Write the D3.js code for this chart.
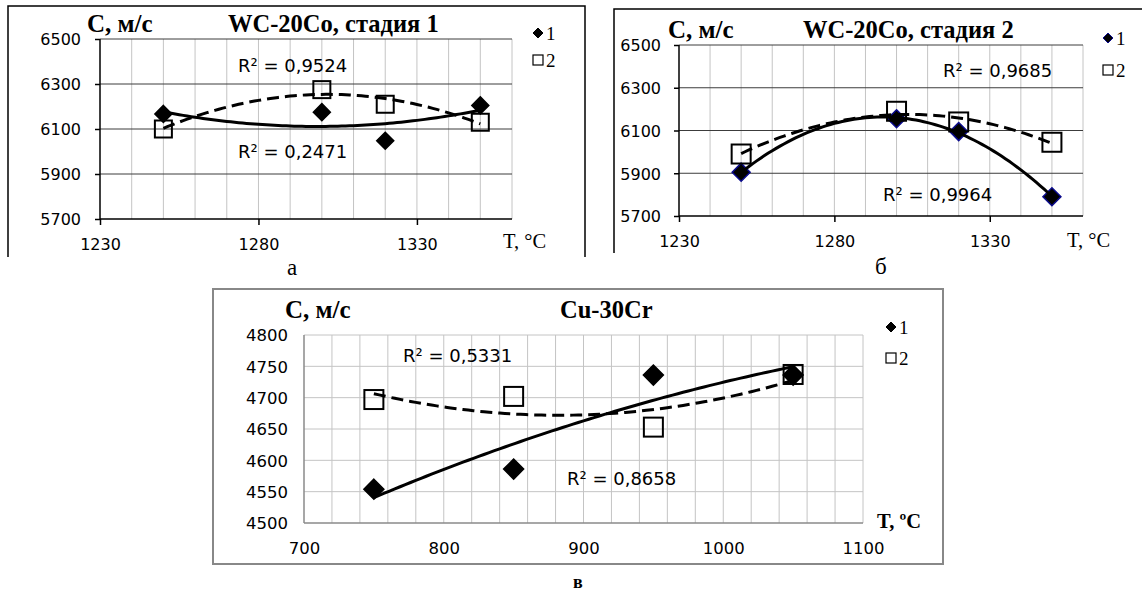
<!DOCTYPE html>
<html>
<head>
<meta charset="utf-8">
<script src="https://cdn.jsdelivr.net/npm/d3@7"></script>
<style>
  body { margin: 0; background: #fff; }
  svg { display: block; }
</style>
</head>
<body>
<svg id="chart" width="1142" height="595"></svg>
<script>
// ---- data ----
const tempsWC = [1250, 1300, 1320, 1350];
const stage1Series1 = [6167, 6175, 6048, 6205];
const stage1Series2 = [6100, 6275, 6210, 6130];
const stage2Series1 = [5905, 6155, 6095, 5790];
const stage2Series2 = [5990, 6190, 6140, 6045];

const tempsCu = [750, 850, 950, 1050];
const cuSeries1 = [4554, 4586, 4736, 4736];
const cuSeries2 = [4697, 4702, 4653, 4737];

const wcXTicks = [1230, 1280, 1330];
const wcYTicks = [5700, 5900, 6100, 6300, 6500];
const cuXTicks = [700, 800, 900, 1000, 1100];
const cuYTicks = [4500, 4550, 4600, 4650, 4700, 4750, 4800];

const titles = ['WC-20Co, стадия 1', 'WC-20Co, стадия 2', 'Cu-30Cr'];
const r2Labels = [['R² = 0,2471', 'R² = 0,9524'], ['R² = 0,9964', 'R² = 0,9685'], ['R² = 0,8658', 'R² = 0,5331']];
const legendNames = ['1', '2'];
const panelLetters = ['а', 'б', 'в'];

const svg = d3.select('#chart');
const sansFont = '"DejaVu Sans", Verdana, sans-serif';
const serifFont = '"Liberation Serif", "Times New Roman", serif';

// least squares parabola, x centred to keep numbers small
function quadFit(xs, ys) {
    const mx = d3.mean(xs);
    const t = xs.map(v => v - mx);
    const S = [0, 1, 2, 3, 4].map(k => d3.sum(t, v => Math.pow(v, k)));
    const T = [0, 1, 2].map(k => d3.sum(t, (v, i) => Math.pow(v, k) * ys[i]));
    const M = [[S[0], S[1], S[2]], [S[1], S[2], S[3]], [S[2], S[3], S[4]]];
    const det = m => m[0][0] * (m[1][1] * m[2][2] - m[1][2] * m[2][1])
        - m[0][1] * (m[1][0] * m[2][2] - m[1][2] * m[2][0])
        + m[0][2] * (m[1][0] * m[2][1] - m[1][1] * m[2][0]);
    const D = det(M);
    const coef = [0, 1, 2].map(c => {
        const m = M.map((row, r) => row.map((v, j) => j == c ? T[r] : v));
        return det(m) / D;
    });
    return x => coef[0] + coef[1] * (x - mx) + coef[2] * (x - mx) * (x - mx);
}

function diamondPath(r) {
    return 'M0,' + (-r) + 'L' + r + ',0L0,' + r + 'L' + (-r) + ',0Z';
}

const panels = [
    {
        frame: { x0: 8, y0: 6, x1: 585, y1: 257, bottom: false, color: '#000', width: 1.5 },
        plot: { x0: 100, x1: 512, y0: 39, y1: 219 },
        xDomain: [1230, 1360], yDomain: [5700, 6500],
        xTicks: wcXTicks, yTicks: wcYTicks, xStep: 10, yStep: 200,
        temps: tempsWC, s1: stage1Series1, s2: stage1Series2,
        style: 'wc', diamondFill: '#000', diamondStroke: '#000',
        tickFont: 16,
        cLabel: [87, 32], title: [228, 32], r2: [[238, 158], [238, 71.5]],
        tLabel: [503, 248], xLblY: 249.5, yLblX: 81,
        legend: [538, 33, 60], letter: [287, 275], markerR: 8.5, sq: 17
    },
    {
        frame: { x0: 614, y0: 9, x1: 1160, y1: 253, bottom: false, color: '#000', width: 1.5 },
        plot: { x0: 679, x1: 1083, y0: 45, y1: 216 },
        xDomain: [1230, 1360], yDomain: [5700, 6500],
        xTicks: wcXTicks, yTicks: wcYTicks, xStep: 10, yStep: 200,
        temps: tempsWC, s1: stage2Series1, s2: stage2Series2,
        style: 'wc', diamondFill: '#000', diamondStroke: '#0a0a8c',
        tickFont: 16,
        cLabel: [668, 38], title: [803, 38], r2: [[883, 201], [943, 76.5]],
        tLabel: [1067, 246.5], xLblY: 246.5, yLblX: 661,
        legend: [1108, 38, 70], letter: [875, 274], markerR: 9, sq: 19
    },
    {
        frame: { x0: 213, y0: 289, x1: 943, y1: 564, bottom: true, color: '#888', width: 2 },
        plot: { x0: 304, x1: 863, y0: 335, y1: 523 },
        xDomain: [700, 1100], yDomain: [4500, 4800],
        xTicks: cuXTicks, yTicks: cuYTicks, xStep: 20, yStep: 50,
        temps: tempsCu, s1: cuSeries1, s2: cuSeries2,
        style: 'cu', diamondFill: '#000', diamondStroke: '#000',
        tickFont: 16.5,
        cLabel: [285, 318], title: [560, 318], r2: [[567, 485], [403, 361.5]],
        tLabel: [877, 528], xLblY: 553.5, yLblX: 288,
        legend: [891, 327, 358], letter: [573, 588], markerR: 10, sq: 19
    }
];

panels.forEach((p, idx) => drawPanel(p, idx));

function drawPanel(p, idx) {
    const g = svg.append('g');
    const x = d3.scaleLinear().domain(p.xDomain).range([p.plot.x0, p.plot.x1]);
    const y = d3.scaleLinear().domain(p.yDomain).range([p.plot.y1, p.plot.y0]);
    const f = p.frame;

    // outer frame
    const framePath = f.bottom
        ? 'M' + f.x0 + ',' + f.y0 + 'H' + f.x1 + 'V' + f.y1 + 'H' + f.x0 + 'Z'
        : 'M' + f.x0 + ',' + f.y1 + 'V' + f.y0 + 'H' + f.x1 + 'V' + f.y1;
    g.append('path').attr('d', framePath).attr('fill', 'none')
        .attr('stroke', f.color).attr('stroke-width', f.width);

    // grid
    const vLines = d3.range(p.xDomain[0] + p.xStep, p.xDomain[1] + 0.001, p.xStep);
    const hLines = d3.range(p.yDomain[0] + p.yStep, p.yDomain[1] + 0.001, p.yStep);
    g.selectAll('.vg').data(vLines).enter().append('line')
        .attr('x1', d => x(d)).attr('x2', d => x(d))
        .attr('y1', p.plot.y0).attr('y2', p.plot.y1)
        .attr('stroke', '#c4c4c4').attr('stroke-width', 1);
    g.selectAll('.hg').data(hLines).enter().append('line')
        .attr('x1', p.plot.x0).attr('x2', p.plot.x1)
        .attr('y1', d => y(d)).attr('y2', d => y(d))
        .attr('stroke', p.style == 'wc' ? '#3c3c3c' : '#c4c4c4').attr('stroke-width', 1);

    // axes
    const wc = p.style == 'wc';
    const yAxis = d3.axisLeft(y).tickValues(p.yTicks).tickFormat(d3.format('d'))
        .tickSize(wc ? 5 : 0).tickPadding(wc ? (p.plot.x0 - p.yLblX - 5) : (p.plot.x0 - p.yLblX));
    const xAxis = d3.axisBottom(x).tickValues(p.xTicks).tickFormat(d3.format('d'))
        .tickSize(wc ? 6 : 0).tickPadding(0);
    const axisColor = wc ? '#000' : '#8a8a8a';

    const ya = g.append('g').attr('transform', 'translate(' + p.plot.x0 + ',0)').call(yAxis);
    ya.select('.domain').attr('d', 'M0,' + p.plot.y0 + 'V' + p.plot.y1);
    const xa = g.append('g').attr('transform', 'translate(0,' + p.plot.y1 + ')').call(xAxis);
    xa.select('.domain').attr('d', 'M' + p.plot.x0 + ',0H' + p.plot.x1);
    [ya, xa].forEach(a => {
        a.attr('font-family', sansFont).attr('font-size', p.tickFont);
        a.select('.domain').attr('stroke', axisColor).attr('stroke-width', 1.5);
        a.selectAll('.tick line').attr('stroke', axisColor).attr('stroke-width', 1.5);
        a.selectAll('text').attr('fill', '#000');
    });
    ya.selectAll('text').attr('dy', '0.36em');
    xa.selectAll('text').attr('y', p.xLblY - p.plot.y1).attr('dy', 0);

    // markers
    const pts1 = p.temps.map((t, i) => [t, p.s1[i]]);
    const pts2 = p.temps.map((t, i) => [t, p.s2[i]]);
    g.selectAll('.dia').data(pts1).enter().append('path')
        .attr('d', diamondPath(p.markerR))
        .attr('transform', d => 'translate(' + x(d[0]) + ',' + y(d[1]) + ')')
        .attr('fill', p.diamondFill).attr('stroke', p.diamondStroke).attr('stroke-width', 1.5);
    g.selectAll('.sq').data(pts2).enter().append('rect')
        .attr('x', d => x(d[0]) - p.sq / 2).attr('y', d => y(d[1]) - p.sq / 2)
        .attr('width', p.sq).attr('height', p.sq)
        .attr('fill', 'none').attr('stroke', '#000').attr('stroke-width', 2);

    // polynomial trend lines
    const line = d3.line().x(d => x(d[0])).y(d => y(d[1]));
    const x0 = d3.min(p.temps), x1 = d3.max(p.temps);
    [p.s1, p.s2].forEach((s, k) => {
        const fit = quadFit(p.temps, s);
        const curve = d3.range(0, 81).map(i => {
            const t = x0 + (x1 - x0) * i / 80;
            return [t, fit(t)];
        });
        g.append('path').attr('d', line(curve)).attr('fill', 'none')
            .attr('stroke', '#000').attr('stroke-width', 3)
            .attr('stroke-dasharray', k == 1 ? '12,6' : null);
    });

    // texts
    g.append('text').attr('x', p.cLabel[0]).attr('y', p.cLabel[1])
        .attr('font-family', serifFont).attr('font-weight', 'bold').attr('font-size', 25)
        .text('C, м/с');
    g.append('text').attr('x', p.title[0]).attr('y', p.title[1])
        .attr('font-family', serifFont).attr('font-weight', 'bold').attr('font-size', 24.5)
        .text(titles[idx]);
    r2Labels[idx].forEach((lbl, k) => {
        g.append('text').attr('x', p.r2[k][0]).attr('y', p.r2[k][1])
            .attr('font-family', sansFont).attr('font-size', 18)
            .text(lbl);
    });
    g.append('text').attr('x', p.tLabel[0]).attr('y', p.tLabel[1])
        .attr('font-family', serifFont).attr('font-size', 20.5)
        .attr('font-weight', wc ? 'normal' : 'bold')
        .text(wc ? 'T, °C' : 'T, ºC');

    // legend
    const lx = p.legend[0];
    g.append('path').attr('d', diamondPath(5))
        .attr('transform', 'translate(' + lx + ',' + p.legend[1] + ')')
        .attr('fill', p.diamondFill).attr('stroke', p.diamondStroke).attr('stroke-width', 1);
    g.append('rect').attr('x', lx - 5).attr('y', p.legend[2] - 5).attr('width', 10).attr('height', 10)
        .attr('fill', 'none').attr('stroke', '#000').attr('stroke-width', 1.2);
    [p.legend[1], p.legend[2]].forEach((ly, k) => {
        g.append('text').attr('x', lx + 8).attr('y', ly + 7)
            .attr('font-family', serifFont).attr('font-size', 19)
            .text(legendNames[k]);
    });

    // panel letter
    g.append('text').attr('x', p.letter[0]).attr('y', p.letter[1])
        .attr('font-family', serifFont).attr('font-size', wc ? 23 : 18)
        .attr('font-weight', wc ? 'normal' : 'bold')
        .text(panelLetters[idx]);
}
</script>
</body>
</html>
